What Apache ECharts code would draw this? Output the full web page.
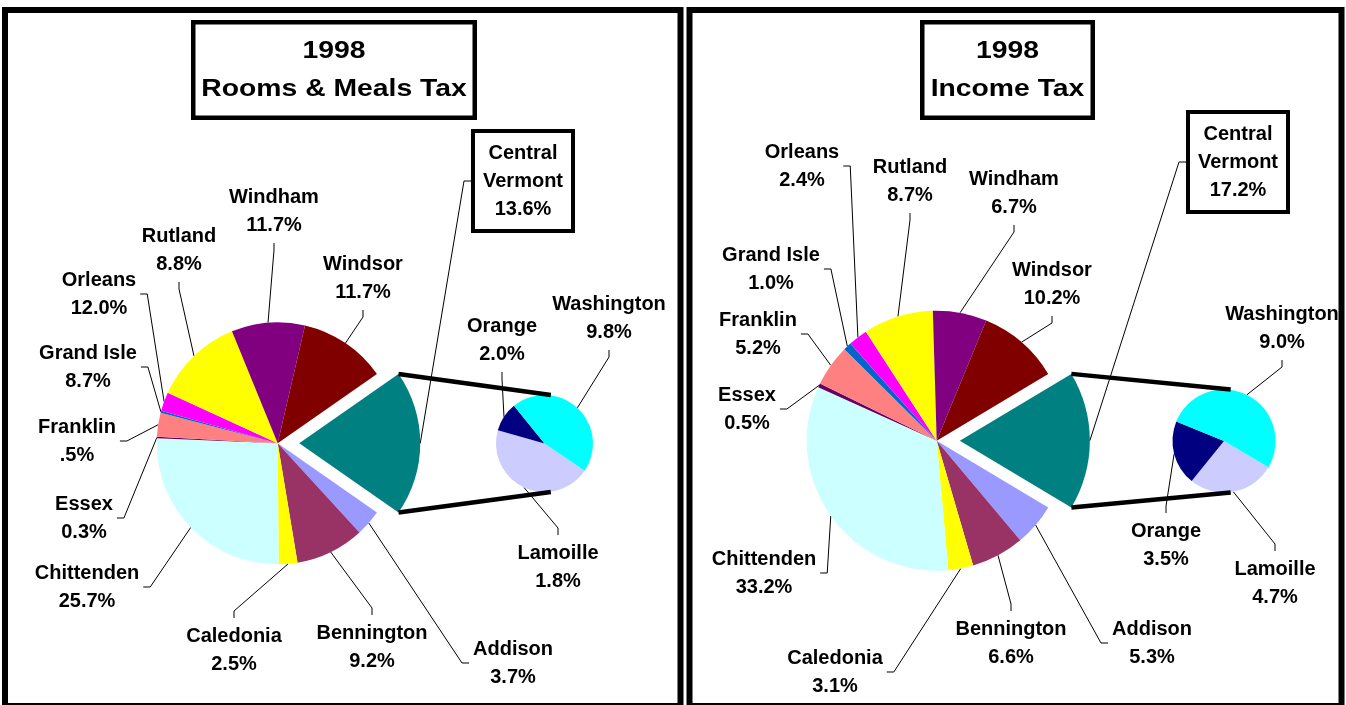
<!DOCTYPE html>
<html>
<head>
<meta charset="utf-8">
<title>1998 Rooms &amp; Meals Tax / Income Tax</title>
<script src="https://cdn.jsdelivr.net/npm/echarts@6/dist/echarts.min.js"></script>
<style>
  html, body { margin: 0; padding: 0; background: #fff; }
  #main { width: 1346px; height: 705px; }
</style>
</head>
<body>
<div id="main"></div>
<script>
// main pie counties, clockwise after the Central Vermont wedge
const counties = ['Addison', 'Bennington', 'Caledonia', 'Chittenden', 'Essex', 'Franklin',
  'Grand Isle', 'Orleans', 'Rutland', 'Windham', 'Windsor'];
// counties inside Central Vermont (small pie), clockwise
const centralCounties = ['Lamoille', 'Orange', 'Washington'];

// Rooms & Meals tax: wedge sizes as drawn (% of state)
const roomsValues = [3.5, 9.2, 2.5, 25.8, 0.2, 3.2, 0.3, 2.5, 12.0, 9.8, 11.7];
const roomsCentralValues = [8.7, 1.9, 8.8];
// percentages printed on the labels
const roomsLabels = ['3.7%', '9.2%', '2.5%', '25.7%', '0.3%', '.5%', '8.7%', '12.0%', '8.8%', '11.7%', '11.7%'];
const roomsCentralLabels = ['1.8%', '2.0%', '9.8%'];
const roomsCentralTotal = '13.6%';

// Income tax
const incomeValues = [5.3, 6.6, 3.1, 33.2, 0.5, 5.2, 1.0, 2.4, 8.7, 6.7, 10.2];
const incomeCentralValues = [4.7, 3.5, 9.0];
const incomeLabels = ['5.3%', '6.6%', '3.1%', '33.2%', '0.5%', '5.2%', '1.0%', '2.4%', '8.7%', '6.7%', '10.2%'];
const incomeCentralLabels = ['4.7%', '3.5%', '9.0%'];
const incomeCentralTotal = '17.2%';

const colors = {
  'Central Vermont': '#008080', 'Addison': '#9999FF', 'Bennington': '#993366', 'Caledonia': '#FFFF00',
  'Chittenden': '#CCFFFF', 'Essex': '#660066', 'Franklin': '#FF8080', 'Grand Isle': '#0066CC',
  'Orleans': '#FF00FF', 'Rutland': '#FFFF00', 'Windham': '#800080', 'Windsor': '#800000',
  'Lamoille': '#CCCCFF', 'Orange': '#000080', 'Washington': '#00FFFF'
};

const FONT = '"Liberation Sans", Arial, Helvetica, sans-serif';
const NONE = 'rgba(0,0,0,0)';

// layout of the two panels (label centre x, y, side the leader attaches to)
const panels = [
  {
    title: '1998\nRooms & Meals Tax', titleBox: [191, 20, 477, 120], frame: [5, 10, 680.5, 706],
    center: [277.7, 443.3], radius: 121, small: [544.5, 443.5], smallRadius: 48.5, smallStart: 325.7,
    values: roomsValues, labels: roomsLabels, cValues: roomsCentralValues, cLabels: roomsCentralLabels,
    cTotal: roomsCentralTotal,
    pos: {
      'Central Vermont': [523, 181, 'l'], 'Addison': [513, 663, 'l'], 'Bennington': [372, 647, 't'],
      'Caledonia': [234, 650, 't'], 'Chittenden': [87, 587, 'r'], 'Essex': [84, 518, 'r'],
      'Franklin': [77, 441, 'r'], 'Grand Isle': [88, 367, 'r'], 'Orleans': [99, 294, 'r'],
      'Rutland': [179, 250, 'b'], 'Windham': [274, 211, 'b'], 'Windsor': [363, 278, 'b'],
      'Lamoille': [558, 567, 't'], 'Orange': [502, 340, 'b'], 'Washington': [609, 318, 'b']
    }
  },
  {
    title: '1998\nIncome Tax', titleBox: [920, 20, 1095, 120], frame: [689.5, 10, 1341.5, 706],
    center: [936.7, 440.7], radius: 130, small: [1224, 441], smallRadius: 51.5, smallStart: 329.5,
    values: incomeValues, labels: incomeLabels, cValues: incomeCentralValues, cLabels: incomeCentralLabels,
    cTotal: incomeCentralTotal,
    pos: {
      'Central Vermont': [1238, 162, 'l'], 'Addison': [1152, 643, 'l'], 'Bennington': [1011, 643, 't'],
      'Caledonia': [835, 672, 'r'], 'Chittenden': [764, 573, 'r'], 'Essex': [747, 409, 'r'],
      'Franklin': [758, 334, 'r'], 'Grand Isle': [771, 269, 'r'], 'Orleans': [802, 166, 'r'],
      'Rutland': [910, 181, 'b'], 'Windham': [1014, 193, 'b'], 'Windsor': [1052, 284, 'b'],
      'Lamoille': [1275, 583, 't'], 'Orange': [1166, 545, 't'], 'Washington': [1282, 328, 'b']
    }
  }
];

const sum = arr => arr.reduce((a, b) => a + b, 0);

// point on the arc at the middle of every wedge (same maths as the pie layout)
function arcMids(values, startDeg, c, r) {
  const total = sum(values);
  let a = -startDeg * Math.PI / 180;
  return values.map(v => {
    const span = v / total * Math.PI * 2;
    const m = a + span / 2;
    a += span;
    return [c[0] + r * Math.cos(m), c[1] + r * Math.sin(m)];
  });
}

// excel style leader: slice -> elbow -> short stub at the label edge
function leader(p, lp, hw, hh, gap) {
  let a, e;
  if (lp[2] === 'r') { a = [lp[0] + hw + gap, lp[1]]; e = [a[0] + 7, a[1]]; }
  else if (lp[2] === 'l') { a = [lp[0] - hw - gap, lp[1]]; e = [a[0] - 7, a[1]]; }
  else if (lp[2] === 't') { a = [lp[0], lp[1] - hh - gap]; e = [a[0], a[1] - 7]; }
  else { a = [lp[0], lp[1] + hh + gap]; e = [a[0], a[1] + 7]; }
  return [p, e, a];
}

const labelStyle = {
  show: true, position: 'outside', color: '#000', fontFamily: FONT, fontWeight: 'bold',
  fontSize: 20, lineHeight: 28, align: 'center', overflow: 'none'
};
const lineStyle = { show: true, smooth: false, lineStyle: { color: '#000', width: 1 } };
const noLabel = { label: { show: false }, labelLine: { show: false } };

const series = [];
const graphics = [];

panels.forEach(pn => {
  const central = sum(pn.cValues);
  const names = ['Central Vermont'].concat(counties);
  const values = [central].concat(pn.values);
  const texts = [pn.cTotal].concat(pn.labels);
  const start = central / sum(values) * 180;
  const off = pn.radius * 0.178;
  const mids = arcMids(values, start, pn.center, pn.radius);
  const smallMids = arcMids(pn.cValues, pn.smallStart, pn.small, pn.smallRadius);
  const base = {
    type: 'pie', radius: pn.radius, startAngle: start, clockwise: true,
    avoidLabelOverlap: false, animation: false, silent: true,
    emphasis: { disabled: true }, itemStyle: { borderWidth: 0 }, labelLine: lineStyle
  };

  // main pie, Central Vermont slot left empty (drawn exploded below)
  series.push(Object.assign({}, base, {
    center: pn.center,
    label: Object.assign({}, labelStyle, {
      formatter: p => p.name + '\n' + texts[p.dataIndex]
    }),
    labelLayout: p => {
      if (p.dataIndex === 0) return {};
      const lp = pn.pos[names[p.dataIndex]];
      return {
        x: lp[0], y: lp[1], align: 'center', verticalAlign: 'middle',
        labelLinePoints: leader(mids[p.dataIndex], lp, p.labelRect.width / 2, p.labelRect.height / 2, 4)
      };
    },
    data: names.map((n, i) => i === 0
      ? Object.assign({ name: n, value: values[i], itemStyle: { color: NONE } }, noLabel)
      : { name: n, value: values[i], itemStyle: { color: colors[n] } })
  }));

  // exploded Central Vermont wedge: same pie pushed out along its mid-angle (3 o'clock)
  const ecx = [pn.center[0] + off, pn.center[1]];
  series.push(Object.assign({}, base, {
    center: ecx,
    label: Object.assign({}, labelStyle, {
      formatter: () => 'Central\nVermont\n' + pn.cTotal,
      backgroundColor: '#fff', borderColor: '#000', borderWidth: 4, padding: [6, 8]
    }),
    labelLayout: p => {
      if (p.dataIndex !== 0) return {};
      const lp = pn.pos['Central Vermont'];
      return {
        x: lp[0], y: lp[1], align: 'center', verticalAlign: 'middle',
        labelLinePoints: leader([ecx[0] + pn.radius, ecx[1]], lp, 52, 52, 0)
      };
    },
    data: [
      { name: 'Central Vermont', value: central, itemStyle: { color: colors['Central Vermont'] } },
      Object.assign({ name: 'rest', value: sum(pn.values), itemStyle: { color: NONE } }, noLabel)
    ]
  }));

  // small pie of the Central Vermont counties
  series.push(Object.assign({}, base, {
    center: pn.small,
    radius: pn.smallRadius,
    startAngle: pn.smallStart,
    label: Object.assign({}, labelStyle, {
      formatter: p => p.name + '\n' + pn.cLabels[p.dataIndex]
    }),
    labelLayout: p => {
      const lp = pn.pos[centralCounties[p.dataIndex]];
      return {
        x: lp[0], y: lp[1], align: 'center', verticalAlign: 'middle',
        labelLinePoints: leader(smallMids[p.dataIndex], lp, p.labelRect.width / 2, p.labelRect.height / 2, 4)
      };
    },
    data: centralCounties.map((n, i) => ({ name: n, value: pn.cValues[i], itemStyle: { color: colors[n] } }))
  }));

  // thick connectors from the exploded wedge to the small pie
  const h = start * Math.PI / 180;
  const ex = ecx[0] + pn.radius * Math.cos(h);
  const dy = pn.radius * Math.sin(h);
  const sx = pn.small[0] + pn.smallRadius * 0.13;
  graphics.push(
    { type: 'line', z: 10, shape: { x1: ex, y1: pn.center[1] - dy, x2: sx, y2: pn.small[1] - pn.smallRadius },
      style: { stroke: '#000', lineWidth: 4.5 } },
    { type: 'line', z: 10, shape: { x1: ex, y1: pn.center[1] + dy, x2: sx, y2: pn.small[1] + pn.smallRadius },
      style: { stroke: '#000', lineWidth: 4.5 } }
  );

  // title box
  const tb = pn.titleBox;
  graphics.push(
    { type: 'rect', z: 10, shape: { x: tb[0] + 2.25, y: tb[1] + 2.25, width: tb[2] - tb[0] - 4.5, height: tb[3] - tb[1] - 4.5 },
      style: { fill: '#fff', stroke: '#000', lineWidth: 4.5 } },
    { type: 'text', z: 11, x: (tb[0] + tb[2]) / 2, y: (tb[1] + tb[3]) / 2, scaleX: 1.18,
      style: { text: pn.title, font: 'bold 24px ' + FONT, fill: '#000', lineHeight: 38,
        textAlign: 'center', textVerticalAlign: 'middle', align: 'center', verticalAlign: 'middle' } }
  );

  // panel frame
  const f = pn.frame;
  graphics.push({ type: 'rect', z: 100, shape: { x: f[0], y: f[1], width: f[2] - f[0], height: f[3] - f[1] },
    style: { fill: 'none', stroke: '#000', lineWidth: 6 } });
});

const chart = echarts.init(document.getElementById('main'));
chart.setOption({
  backgroundColor: '#fff',
  animation: false,
  tooltip: { show: false },
  graphic: { elements: graphics },
  series: series
});
</script>
</body>
</html>
